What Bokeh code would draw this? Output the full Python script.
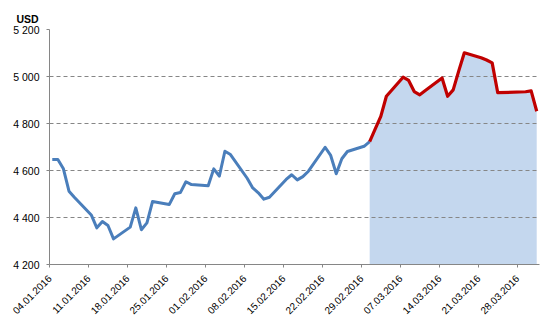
import math
import datetime as dt
from bokeh.plotting import figure
from bokeh.models import FixedTicker, Title, ColumnDataSource
from bokeh.embed import file_html
from bokeh.resources import INLINE

# ---- data ----
blue_dates = ["04.01.2016", "05.01.2016", "06.01.2016", "07.01.2016", "08.01.2016",
              "11.01.2016", "12.01.2016", "13.01.2016", "14.01.2016", "15.01.2016",
              "18.01.2016", "19.01.2016", "20.01.2016", "21.01.2016", "22.01.2016",
              "25.01.2016", "26.01.2016", "27.01.2016", "28.01.2016", "29.01.2016",
              "01.02.2016", "02.02.2016", "03.02.2016", "04.02.2016", "05.02.2016",
              "08.02.2016", "09.02.2016", "10.02.2016", "11.02.2016", "12.02.2016",
              "15.02.2016", "16.02.2016", "17.02.2016", "18.02.2016", "19.02.2016",
              "22.02.2016", "23.02.2016", "24.02.2016", "25.02.2016", "26.02.2016",
              "29.02.2016", "01.03.2016"]
blue_values = [4647, 4647, 4607, 4512, 4485,
               4411, 4356, 4383, 4366, 4309,
               4359, 4441, 4348, 4377, 4468,
               4455, 4501, 4506, 4552, 4540,
               4535, 4607, 4576, 4682, 4668,
               4567, 4526, 4505, 4478, 4486,
               4562, 4582, 4560, 4574, 4597,
               4699, 4664, 4586, 4650, 4681,
               4703, 4723]

red_dates = ["01.03.2016", "02.03.2016", "03.03.2016", "04.03.2016",
             "07.03.2016", "08.03.2016", "09.03.2016", "10.03.2016", "11.03.2016",
             "14.03.2016", "15.03.2016", "16.03.2016", "17.03.2016", "18.03.2016",
             "21.03.2016", "22.03.2016", "23.03.2016", "24.03.2016",
             "29.03.2016", "30.03.2016", "31.03.2016"]
red_values = [4723, 4777, 4830, 4916,
              4997, 4983, 4936, 4922, 4940,
              4994, 4916, 4943, 5024, 5101,
              5080, 5070, 5058, 4931,
              4935, 4939, 4852]

x_tick_labels = ["04.01.2016", "11.01.2016", "18.01.2016", "25.01.2016", "01.02.2016",
                 "08.02.2016", "15.02.2016", "22.02.2016", "29.02.2016", "07.03.2016",
                 "14.03.2016", "21.03.2016", "28.03.2016"]
y_ticks = [4200, 4400, 4600, 4800, 5000, 5200]
y_tick_labels = ["4 200", "4 400", "4 600", "4 800", "5 000", "5 200"]
axis_end_date = "01.04.2016"

# ---- helpers: dates -> day offsets (points sit in the middle of their day) ----
origin = dt.datetime.strptime(x_tick_labels[0], "%d.%m.%Y")
def day(s):
    return (dt.datetime.strptime(s, "%d.%m.%Y") - origin).days

blue_x = [day(d) + 0.5 for d in blue_dates]
red_x = [day(d) + 0.5 for d in red_dates]
tick_x = [day(d) for d in x_tick_labels]

FONT = "Liberation Sans"
GRID = "#868686"

p = figure(width=560, height=327, output_backend="svg", toolbar_location=None,
           x_range=(0, day(axis_end_date)), y_range=(y_ticks[0], y_ticks[-1]),
           min_border_left=49, min_border_right=21, min_border_top=29,
           min_border_bottom=63, background_fill_color="white",
           border_fill_color="white", outline_line_color=None)

t = Title(text="USD", align="left", offset=-33, text_font=FONT,
          text_font_size="10.5px", text_font_style="bold", text_color="#000000",
          standoff=10)
p.add_layout(t, "above")

red_src = ColumnDataSource(dict(x=red_x, y=red_values, base=[y_ticks[0]] * len(red_x)))
area = p.varea(x="x", y1="base", y2="y", source=red_src, fill_color="#C4D7EE")
area.level = "image"

p.line(blue_x, blue_values, line_color="#4A7EBB", line_width=3, line_join="round")
p.line(x="x", y="y", source=red_src, line_color="#C00000", line_width=3.2,
       line_join="round")

# grids
p.xgrid.visible = False
p.ygrid.ticker = FixedTicker(ticks=y_ticks)
p.ygrid.grid_line_color = GRID
p.ygrid.grid_line_dash = "4 3"
p.ygrid.grid_line_width = 1

# axes
for ax in (p.xaxis[0], p.yaxis[0]):
    ax.axis_line_color = GRID
    ax.major_tick_line_color = GRID
    ax.minor_tick_line_color = None
    ax.major_tick_in = 0
    ax.major_tick_out = 3
    ax.major_label_text_font = FONT
    ax.major_label_text_color = "#000000"

p.yaxis.major_label_text_font_size = "10.5px"
p.yaxis.ticker = FixedTicker(ticks=y_ticks)
p.yaxis.major_label_overrides = {v: l for v, l in zip(y_ticks, y_tick_labels)}
p.yaxis.major_label_standoff = 7

p.xaxis.major_label_text_font_size = "10px"
p.xaxis.ticker = FixedTicker(ticks=tick_x)
p.xaxis.major_label_overrides = {v: l for v, l in zip(tick_x, x_tick_labels)}
p.xaxis.major_label_orientation = math.pi / 4
p.xaxis.major_label_standoff = 9

open("out.html", "w").write(file_html(p, INLINE))
